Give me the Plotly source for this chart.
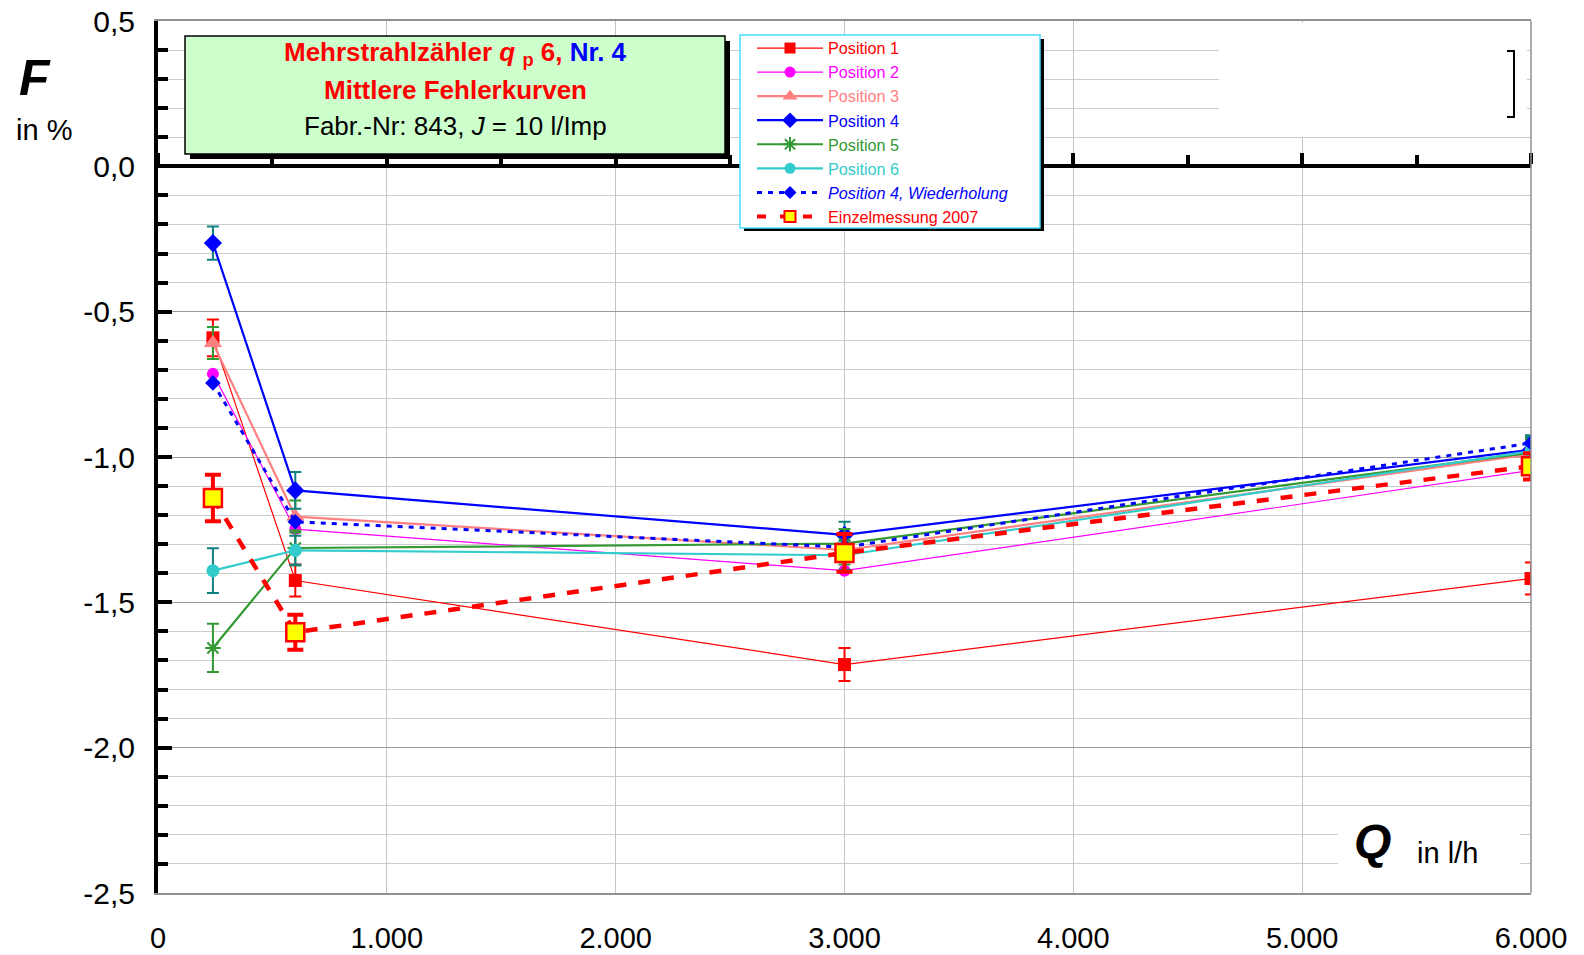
import numpy as np
import plotly.graph_objects as go

# ---------------- data ----------------
Q = [240, 600, 3000, 6000]
pos1 = [-0.590, -1.425, -1.714, -1.418]
pos2 = [-0.714, -1.248, -1.391, -1.046]
pos3 = [-0.608, -1.205, -1.320, -0.990]
pos4 = [-0.264, -1.115, -1.268, -0.975]
pos5 = [-1.657, -1.313, -1.298, -0.985]
pos6 = [-1.391, -1.321, -1.338, -0.980]
pos4w = [-0.745, -1.223, -1.310, -0.952]
einzel = [-1.141, -1.603, -1.330, -1.032]

err1 = [0.063, 0.055, 0.057, 0.055]
err3 = [0.055, 0.055, 0.050, 0.050]
err4 = [0.057, 0.063, 0.045, 0.050]
err5 = [0.083, 0.060, 0.050, 0.050]
err6 = [0.077, 0.050, 0.050, 0.050]
err_einzel = [0.080, 0.060, 0.065, 0.045]

x_tickvals = [0, 1000, 2000, 3000, 4000, 5000, 6000]
x_ticktext = ["0", "1.000", "2.000", "3.000", "4.000", "5.000", "6.000"]
y_tickvals = [0.5, 0.0, -0.5, -1.0, -1.5, -2.0, -2.5]
y_ticktext = ["0,5", "0,0", "-0,5", "-1,0", "-1,5", "-2,0", "-2,5"]

FONT = "Liberation Sans, Arial, sans-serif"
W, H = 1584, 955
ML, MR, MT, MB = 158, 53, 21, 62
PW, PH = W - ML - MR, H - MT - MB


def px(x):
    return (x - ML) / PW


def py(y):
    return (H - MB - y) / PH


def lbl(text, color):
    return '<span style="color:%s">%s</span>' % (color, text)


fig = go.Figure()

RED, MAG, SAL, BLUE, GREEN, CYAN, TEAL = "#ff0000", "#ff00ff", "#ff8080", "#0000ff", "#339933", "#33cccc", "#118080"


def err(vals, color, thick=2, width=6):
    return dict(type="data", array=vals, visible=True, color=color, thickness=thick, width=width)


# (name, values, line, plot marker, legend marker size, error bars)
series = [
    (lbl("Position 1", RED), pos1, dict(color=RED, width=1.2),
     dict(symbol="square", size=13, color=RED), 11, err(err1, RED)),
    (lbl("Position 2", MAG), pos2, dict(color=MAG, width=1.2),
     dict(symbol="circle", size=12, color=MAG), 11, None),
    (lbl("Position 3", SAL), pos3, dict(color=SAL, width=2.2),
     dict(symbol="triangle-up", size=16, color=SAL), 13, err(err3, GREEN)),
    (lbl("Position 4", BLUE), pos4, dict(color=BLUE, width=2.2),
     dict(symbol="diamond", size=14, color=BLUE), 12, err(err4, TEAL)),
    (lbl("Position 5", GREEN), pos5, dict(color=GREEN, width=2.2),
     dict(symbol="asterisk-open", size=13, color=GREEN, line=dict(color=GREEN, width=2)), 12, err(err5, GREEN)),
    (lbl("Position 6", CYAN), pos6, dict(color=CYAN, width=2.2),
     dict(symbol="circle", size=13, color=CYAN), 11, err(err6, TEAL)),
    (lbl("<i>Position 4, Wiederholung</i>", BLUE), pos4w, dict(color=BLUE, width=3, dash="5px,6px"),
     dict(symbol="diamond", size=12, color=BLUE), 10, None),
    (lbl("Einzelmessung 2007", RED), einzel, dict(color=RED, width=4.5, dash="12px,12px"),
     dict(symbol="square", size=18, color="#ffff00", line=dict(color=RED, width=2.5)), 11,
     err(err_einzel, RED, thick=4, width=8)),
]

for name, vals, line, marker, lsize, eb in series:
    kw = dict(x=Q, y=vals, name=name, mode="lines+markers", line=line, marker=marker,
              showlegend=False)
    if eb is not None:
        kw["error_y"] = eb
    fig.add_trace(go.Scatter(**kw))

# legend entries with smaller sample markers
for name, vals, line, marker, lsize, eb in series:
    lm = dict(marker)
    lm["size"] = lsize
    if "line" in lm:
        lm["line"] = dict(lm["line"], width=2)
    lline = dict(line)
    if lline.get("dash") == "12px,12px":
        lline["width"] = 4
        lline["dash"] = "9px,14px"
    fig.add_trace(go.Scatter(x=[None], y=[None], name=name, mode="lines+markers",
                             line=lline, marker=lm, showlegend=True, hoverinfo="skip"))

# dummy trace so the zero-line axis is drawn
fig.add_trace(go.Scatter(x=[], y=[], xaxis="x2", showlegend=False, hoverinfo="skip"))

minor_y = [round(v, 1) for v in np.arange(-2.5, 0.51, 0.1)]
minor_x = [500, 1500, 2500, 3500, 4500, 5500]

fig.update_layout(
    width=W, height=H,
    margin=dict(l=ML, r=MR, t=MT, b=MB, autoexpand=False),
    paper_bgcolor="white", plot_bgcolor="white",
    font=dict(family=FONT, color="black"),
    showlegend=True,
    legend=dict(x=px(752), y=py(31), xanchor="left", yanchor="top",
                bgcolor="rgba(0,0,0,0)", borderwidth=0,
                font=dict(size=16.2, family=FONT), itemwidth=66, traceorder="normal"),
    xaxis=dict(range=[0, 6000], tickmode="array", tickvals=x_tickvals, ticktext=x_ticktext,
               showgrid=True, gridcolor="#c4c4c4", gridwidth=1, zeroline=False,
               showline=True, linecolor="#909090", linewidth=1.5, mirror=True,
               ticks="", tickfont=dict(size=29, family=FONT), ticklabelstandoff=18),
    xaxis2=dict(range=[0, 6000], overlaying="x", anchor="free", position=2.5 / 3, side="top",
                showline=True, linecolor="black", linewidth=4, showgrid=False, zeroline=False,
                tickmode="array", tickvals=x_tickvals, ticks="outside", ticklen=11, tickwidth=4,
                tickcolor="black", showticklabels=False,
                minor=dict(tickmode="array", tickvals=minor_x, ticks="outside", ticklen=9,
                           tickwidth=4, tickcolor="black", showgrid=False)),
    yaxis=dict(range=[-2.5, 0.5], tickmode="array", tickvals=y_tickvals, ticktext=y_ticktext,
               showgrid=True, gridcolor="#9a9a9a", gridwidth=1.3, zeroline=False,
               showline=True, linecolor="black", linewidth=4,
               ticks="inside", ticklen=14, tickwidth=4, tickcolor="black",
               tickfont=dict(size=30, family=FONT), ticklabelstandoff=13,
               minor=dict(tickmode="array", tickvals=minor_y, ticks="inside", ticklen=10,
                          tickwidth=4, tickcolor="black", showgrid=True,
                          gridcolor="#cccccc", gridwidth=1)),
)

shapes = []
# right border of the plot area
shapes.append(dict(type="line", xref="paper", yref="paper", x0=1, x1=1, y0=0, y1=1,
                   line=dict(color="#909090", width=1.5), layer="above"))
# title box with shadow
shapes.append(dict(type="rect", xref="paper", yref="paper", x0=px(190), x1=px(730), y0=py(159), y1=py(41),
                   fillcolor="black", line=dict(width=0), layer="above"))
shapes.append(dict(type="rect", xref="paper", yref="paper", x0=px(185), x1=px(725), y0=py(154), y1=py(36),
                   fillcolor="#ccffcc", line=dict(color="black", width=1.5), layer="above"))
# legend box with shadow
shapes.append(dict(type="rect", xref="paper", yref="paper", x0=px(744), x1=px(1044), y0=py(231), y1=py(39),
                   fillcolor="black", line=dict(width=0), layer="above"))
shapes.append(dict(type="rect", xref="paper", yref="paper", x0=px(740), x1=px(1040), y0=py(228), y1=py(35),
                   fillcolor="white", line=dict(color="#44ddff", width=1.5), layer="above"))
# white box at the top right (covers grid)
shapes.append(dict(type="rect", xref="paper", yref="paper", x0=px(1219), x1=px(1527), y0=py(137), y1=py(23),
                   fillcolor="white", line=dict(width=0), layer="above"))
shapes.append(dict(type="path", xref="paper", yref="paper",
                   path="M %f,%f L %f,%f L %f,%f L %f,%f" % (px(1507), py(51), px(1514), py(51),
                                                             px(1514), py(117), px(1507), py(117)),
                   line=dict(color="black", width=2), layer="above"))
# white box behind the Q label
shapes.append(dict(type="rect", xref="paper", yref="paper", x0=px(1338), x1=px(1520), y0=py(886), y1=py(815),
                   fillcolor="white", line=dict(width=0), layer="above"))
fig.update_layout(shapes=shapes)

ann = []


def add_text(x, y, text, size, color="black", xanchor="center"):
    ann.append(dict(xref="paper", yref="paper", x=px(x), y=py(y), text=text, showarrow=False,
                    xanchor=xanchor, yanchor="middle", font=dict(size=size, color=color, family=FONT)))


add_text(455, 54, '<b><span style="color:#ff0000">Mehrstrahlzähler <i>q</i> <sub>p</sub> 6, </span>'
                  '<span style="color:#0000ff">Nr. 4</span></b>', 26)
add_text(455, 90, '<b>Mittlere Fehlerkurven</b>', 26, RED)
add_text(455, 126, 'Fabr.-Nr: 843, <i>J</i> = 10 l/Imp', 26)
add_text(35, 78, '<b><i>F</i></b>', 50)
add_text(44, 130, 'in %', 29)
add_text(1372, 841, '<b><i>Q</i></b>', 48)
add_text(1447, 853, 'in l/h', 29)
fig.update_layout(annotations=ann)

fig.write_html("out.html")
